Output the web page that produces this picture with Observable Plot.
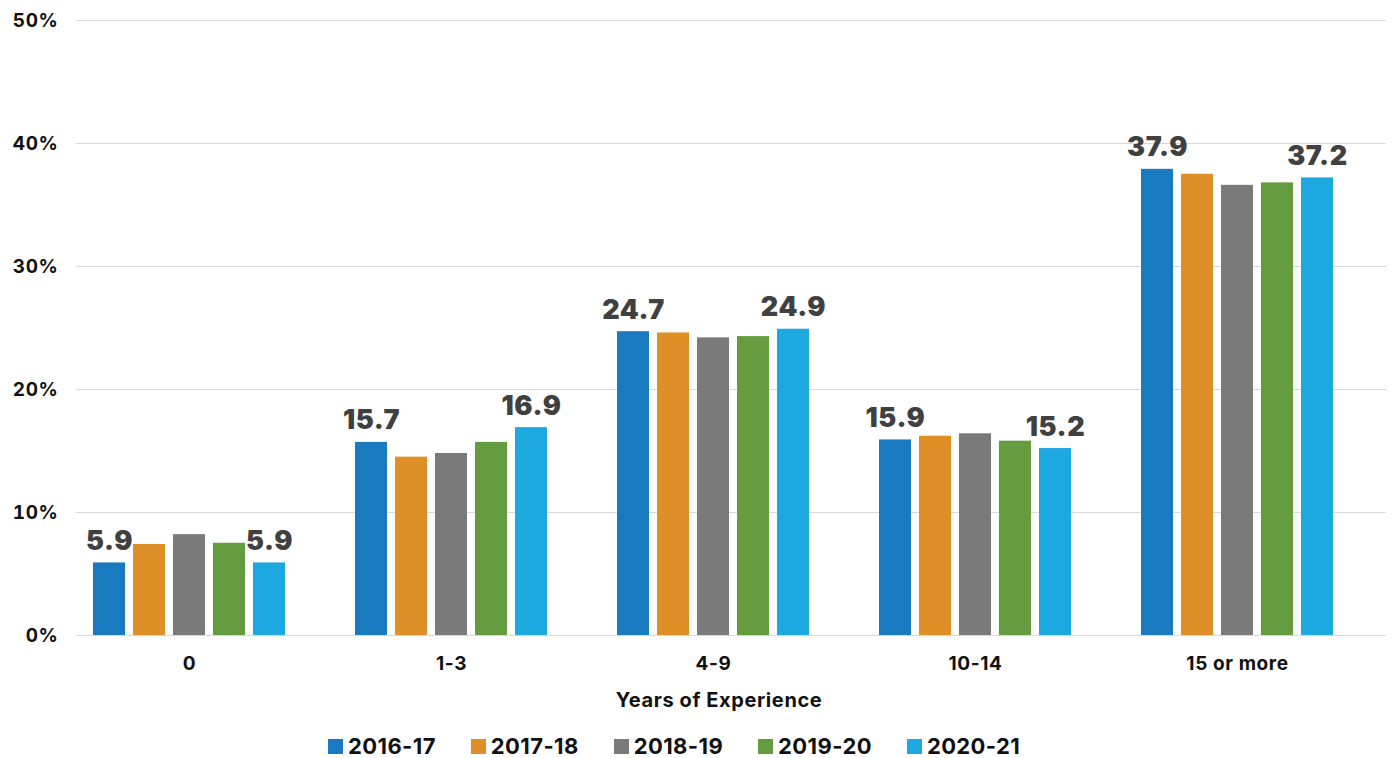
<!DOCTYPE html>
<html>
<head>
<meta charset="utf-8">
<script src="https://cdn.jsdelivr.net/npm/d3@7"></script>
<script src="https://cdn.jsdelivr.net/npm/@observablehq/plot@0.6"></script>
<style>
  body { margin: 0; background: #fff; font-family: Inter, "Open Sans", sans-serif; }
  #title { font-weight: 700; font-size: 20px; letter-spacing: 0.6px; line-height: 22px; color: #111; text-align: center; width: 1392px; box-sizing: border-box; padding-left: 46px; margin-top: 9px; }
  #legend { display: flex; align-items: center; padding-left: 328px; margin-top: 23px; height: 24px; }
  .item { display: flex; align-items: center; margin-right: 35px; font-weight: 700; font-size: 22px; letter-spacing: 0.4px; color: #111; }
  .sw { width: 15px; height: 15px; margin-right: 5px; }
</style>
</head>
<body>
<div id="chart"></div>
<div id="title">Years of Experience</div>
<div id="legend"></div>
<script>
const categories = ["0", "1-3", "4-9", "10-14", "15 or more"];
const years = ["2016-17", "2017-18", "2018-19", "2019-20", "2020-21"];
const s2016_17 = [5.9, 15.7, 24.7, 15.9, 37.9];
const s2017_18 = [7.4, 14.5, 24.6, 16.2, 37.5];
const s2018_19 = [8.2, 14.8, 24.2, 16.4, 36.6];
const s2019_20 = [7.5, 15.7, 24.3, 15.8, 36.8];
const s2020_21 = [5.9, 16.9, 24.9, 15.2, 37.2];
const colors = ["#1a7abf", "#de8f27", "#7a7a7a", "#659c40", "#1ea8e0"];
const yTicks = [0, 10, 20, 30, 40, 50];
const labeledYears = ["2016-17", "2020-21"];

const series = [s2016_17, s2017_18, s2018_19, s2019_20, s2020_21];
const data = [];
series.forEach((vals, i) => vals.forEach((v, j) => data.push({cat: categories[j], year: years[i], value: v})));

const font = "Inter, 'Open Sans', sans-serif";
const chart = Plot.plot({
  width: 1392,
  height: 680,
  marginTop: 20,
  marginBottom: 45,
  marginLeft: 75,
  marginRight: 5,
  style: {fontFamily: font, fontSize: "19px", fontWeight: 700, color: "#111", background: "#fff", letterSpacing: "0.6px"},
  fx: {domain: categories, padding: 0, axis: null, label: null},
  x: {domain: years, range: [92, 284], paddingInner: 0.2, paddingOuter: 0, axis: null},
  y: {domain: [0, 50], ticks: yTicks, tickFormat: d => d + "%", label: null, tickSize: 0, tickPadding: 18},
  color: {domain: years, range: colors},
  marks: [
    Plot.ruleY(yTicks, {stroke: "#d9d9d9", strokeWidth: 1}),
    Plot.barY(data, {fx: "cat", x: "year", y: "value", fill: "year"}),
    Plot.text(data.filter(d => labeledYears.includes(d.year)), {
      fx: "cat", x: "year", y: "value", text: d => d.value.toFixed(1),
      lineAnchor: "bottom", dy: -13, fontSize: 27, fontWeight: 900, fill: "#404040"
    }),
    Plot.text(categories, {
      fx: d => d, x: () => years[2], y: () => 0, text: d => d,
      dy: 28, fontSize: 19, fontWeight: 700, fill: "#111"
    })
  ]
});
document.getElementById("chart").appendChild(chart);

const legend = document.getElementById("legend");
years.forEach((y, i) => {
  const it = document.createElement("div");
  it.className = "item";
  const sw = document.createElement("div");
  sw.className = "sw";
  sw.style.background = colors[i];
  const t = document.createElement("span");
  t.textContent = y;
  it.appendChild(sw);
  it.appendChild(t);
  legend.appendChild(it);
});
</script>
</body>
</html>
